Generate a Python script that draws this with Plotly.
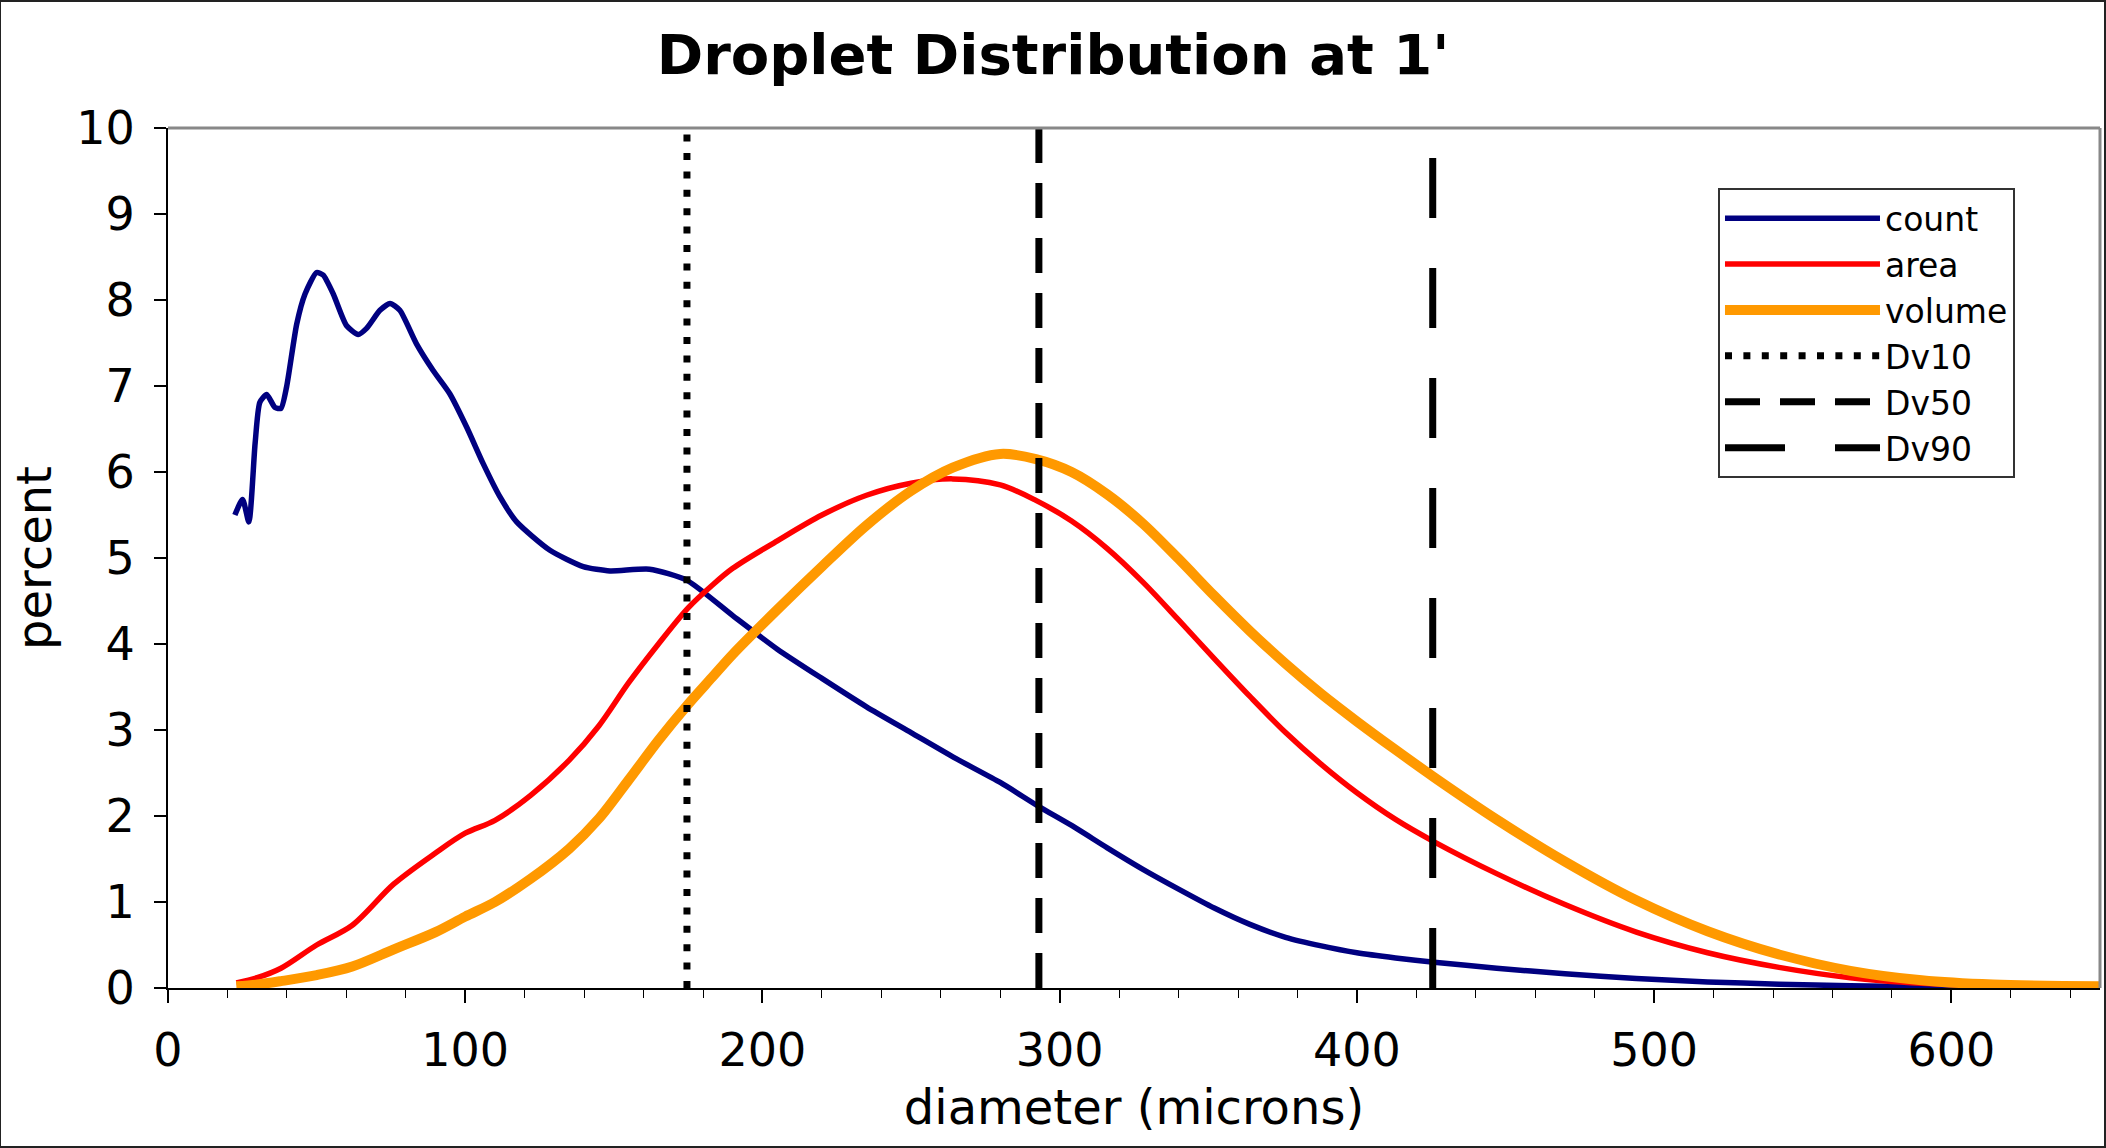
import plotly.graph_objects as go

# ---- data ----
count_d = [22.5, 25.1, 27.2, 29.3, 30.9, 33.2, 36, 38, 39.9, 43.3, 46.1, 50, 52.2, 55.6, 60.1, 64,
           66.8, 71.3, 74.7, 78, 83.6, 89.2, 94.8, 100.5, 106, 111.7, 117.3, 128.5, 139.7, 148.7,
           162, 174.6, 190, 205, 220, 235, 250, 265, 280, 293, 304, 316, 328, 340, 352, 364, 376,
           388, 400, 413, 426, 447, 470, 494, 518, 542, 566, 600, 650]
count_pct = [5.50, 5.68, 5.42, 6.33, 6.81, 6.90, 6.75, 6.74, 6.99, 7.72, 8.07, 8.32, 8.29, 8.07,
             7.70, 7.60, 7.67, 7.88, 7.96, 7.88, 7.49, 7.18, 6.91, 6.52, 6.10, 5.71, 5.42, 5.09,
             4.90, 4.85, 4.87, 4.74, 4.33, 3.94, 3.60, 3.27, 2.97, 2.67, 2.39, 2.11, 1.89, 1.63,
             1.38, 1.15, 0.93, 0.74, 0.59, 0.49, 0.41, 0.35, 0.30, 0.23, 0.165, 0.11, 0.07, 0.045,
             0.025, 0.01, 0.005]

dist_d = [23, 30, 38, 50, 62, 76, 90, 100, 110, 122, 135, 145, 155, 165, 175, 183, 190, 205, 220,
          235, 250, 264, 280, 292, 304, 316, 328, 340, 352, 364, 376, 388, 400, 413, 426, 447,
          470, 494, 518, 542, 566, 590, 614, 650]
area_pct = [0.06, 0.12, 0.23, 0.50, 0.73, 1.21, 1.57, 1.80, 1.95, 2.24, 2.65, 3.05, 3.55, 4.00,
            4.42, 4.68, 4.88, 5.20, 5.50, 5.73, 5.87, 5.92, 5.85, 5.67, 5.43, 5.11, 4.72, 4.28,
            3.83, 3.39, 2.97, 2.60, 2.27, 1.96, 1.70, 1.33, 0.97, 0.65, 0.41, 0.24, 0.12, 0.055,
            0.025, 0.01]
volume_pct = [0.02, 0.04, 0.08, 0.15, 0.25, 0.45, 0.65, 0.83, 1.00, 1.27, 1.62, 1.97, 2.42, 2.88,
              3.30, 3.61, 3.88, 4.40, 4.90, 5.38, 5.78, 6.05, 6.21, 6.15, 6.00, 5.74, 5.40, 4.99,
              4.56, 4.15, 3.77, 3.42, 3.10, 2.77, 2.45, 1.96, 1.47, 1.02, 0.66, 0.39, 0.20, 0.09,
              0.04, 0.02]

dv_names = ["Dv10", "Dv50", "Dv90"]
dv_values = [174.6, 293, 425.5]
dv_span = [0, 10]

x_ticks = [0, 100, 200, 300, 400, 500, 600]
y_ticks = [0, 1, 2, 3, 4, 5, 6, 7, 8, 9, 10]

FONT = "DejaVu Sans"

fig = go.Figure()
fig.add_trace(go.Scatter(x=count_d, y=count_pct, name="count", mode="lines",
                         line=dict(color="#000080", width=5.5, shape="spline", smoothing=0.6)))
fig.add_trace(go.Scatter(x=dist_d, y=area_pct, name="area", mode="lines",
                         line=dict(color="#ff0000", width=5.5, shape="spline", smoothing=0.9)))
fig.add_trace(go.Scatter(x=dist_d, y=volume_pct, name="volume", mode="lines",
                         line=dict(color="#ff9900", width=10, shape="spline", smoothing=0.9)))

dashes = ["7px,11.4px", "35px,20px", "60px,50px"]
for name, val, dash in zip(dv_names, dv_values, dashes):
    fig.add_trace(go.Scatter(x=[val, val], y=dv_span, name=name, mode="lines",
                             line=dict(color="black", width=7, dash=dash)))

fig.update_layout(
    width=2106, height=1148,
    paper_bgcolor="white", plot_bgcolor="white",
    margin=dict(l=168, r=6, t=128, b=160),
    font=dict(family=FONT, color="black"),
    title=dict(text="<b>Droplet Distribution at 1'</b>", x=0.5, xref="container", xanchor="center",
               y=1 - 54 / 1148, yanchor="middle", font=dict(family=FONT, size=56, color="black")),
    showlegend=True,
    legend=dict(x=0.956, y=0.930, xanchor="right", yanchor="top",
                bgcolor="white", bordercolor="#333333", borderwidth=2,
                font=dict(family=FONT, size=33, color="black"),
                itemwidth=155, tracegroupgap=0),
    xaxis=dict(range=[0, 650], tickvals=x_ticks, ticks="outside", ticklen=13, tickwidth=1.5,
               tickcolor="black", showline=True, linecolor="black", linewidth=2,
               showgrid=False, zeroline=False,
               tickfont=dict(family=FONT, size=46, color="black"), ticklabelstandoff=8,
               minor=dict(dtick=20, tick0=0, ticks="outside", ticklen=8, tickcolor="black",
                          tickwidth=1.2, showgrid=False),
               title=dict(text="diameter (microns)", font=dict(family=FONT, size=48, color="black"),
                          standoff=14)),
    yaxis=dict(range=[0, 10], tickvals=y_ticks, ticks="outside", ticklen=12, tickwidth=1.5,
               tickcolor="black", showline=True, linecolor="black", linewidth=2,
               showgrid=False, zeroline=False,
               tickfont=dict(family=FONT, size=46, color="black"), ticklabelstandoff=10,
               title=dict(text="percent", font=dict(family=FONT, size=48, color="black"),
                          standoff=9)),
    shapes=[
        dict(type="line", xref="paper", yref="paper", x0=0, x1=1, y0=1, y1=1,
             line=dict(color="#888888", width=3)),
        dict(type="line", xref="paper", yref="paper", x0=1, x1=1, y0=0, y1=1,
             line=dict(color="#888888", width=3)),
        dict(type="rect", xref="paper", yref="paper",
             x0=-168 / 1932, x1=1 + 5 / 1932, y0=-159 / 860, y1=1 + 127 / 860,
             line=dict(color="#222222", width=2)),
    ],
)

fig.write_html("out.html")
